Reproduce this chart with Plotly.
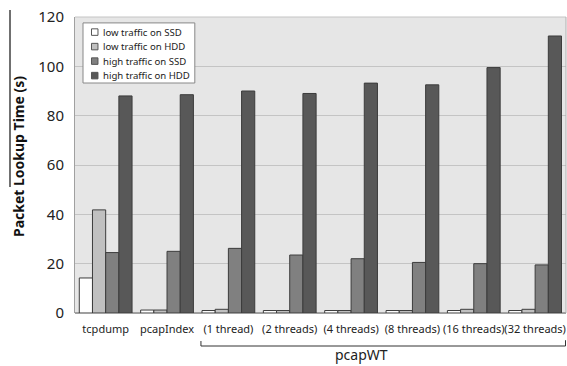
import plotly.graph_objects as go

categories = ["tcpdump", "pcapIndex", "(1 thread)", "(2 threads)", "(4 threads)",
              "(8 threads)", "(16 threads)", "(32 threads)"]
series_names = ["low traffic on SSD", "low traffic on HDD", "high traffic on SSD", "high traffic on HDD"]
low_ssd = [14.2, 1.2, 1.0, 1.0, 1.0, 1.0, 1.0, 1.0]
low_hdd = [41.8, 1.2, 1.5, 1.0, 1.0, 1.0, 1.5, 1.5]
high_ssd = [24.5, 25.0, 26.2, 23.5, 22.0, 20.5, 20.0, 19.5]
high_hdd = [88.0, 88.5, 90.0, 89.0, 93.2, 92.5, 99.5, 112.3]
y_ticks = [0, 20, 40, 60, 80, 100, 120]
y_title = "Packet Lookup Time (s)"
group_label = "pcapWT"

colors = ["#ffffff", "#c0c0c0", "#808080", "#585858"]
values = [low_ssd, low_hdd, high_ssd, high_hdd]

fig = go.Figure()
for name, vals, col in zip(series_names, values, colors):
    fig.add_trace(go.Bar(
        x=categories, y=vals, name=name,
        marker=dict(color=col, line=dict(color="#3c3c3c", width=1)),
        showlegend=False,
    ))

# manual compact legend (paper coordinates)
shapes = [
    dict(type="rect", xref="paper", yref="paper", x0=0.0163, x1=0.244, y0=0.777, y1=0.980,
         fillcolor="white", line=dict(color="#888888", width=1), layer="above"),
]
annotations = []
row_y = [0.949, 0.900, 0.851, 0.802]
for name, col, ry in zip(series_names, colors, row_y):
    shapes.append(dict(type="rect", xref="paper", yref="paper",
                       x0=0.0336, x1=0.0468, y0=ry - 0.011, y1=ry + 0.011,
                       fillcolor=col, line=dict(color="#555555", width=1), layer="above"))
    annotations.append(dict(text=name, xref="paper", yref="paper", x=0.052, y=ry,
                            xanchor="left", yanchor="middle", showarrow=False,
                            font=dict(size=9.6, color="#222222")))

shapes += [
    # plot border top / right
    dict(type="line", xref="paper", yref="paper", x0=0, x1=1, y0=1, y1=1,
         line=dict(color="#c4c4c4", width=1)),
    dict(type="line", xref="paper", yref="paper", x0=1, x1=1, y0=0, y1=1,
         line=dict(color="#b0b0b0", width=1)),
    # group bracket under pcapWT
    dict(type="path", xref="x", yref="paper",
         path="M 1.553,-0.0946 L 1.553,-0.1115 L 7.495,-0.1115 L 7.495,-0.092",
         line=dict(color="#333333", width=1)),
    # stray vertical line near the axis title
    dict(type="line", xref="paper", yref="paper",
         x0=-0.1324, x1=-0.1324, y0=0.4257, y1=1.0236,
         line=dict(color="#707070", width=2)),
]

annotations += [
    dict(text=group_label, x=4.17, y=-0.103, xref="x", yref="paper",
         showarrow=False, yanchor="top", font=dict(size=14, color="#222222")),
    dict(text="<b>" + y_title + "</b>", x=-0.116, y=0.527, xref="paper", yref="paper",
         textangle=-90, showarrow=False, xanchor="center", yanchor="middle",
         font=dict(size=14, color="#111111")),
]

fig.update_layout(
    width=567, height=366,
    margin=dict(l=75, r=1, t=17, b=53, autoexpand=False),
    paper_bgcolor="white",
    plot_bgcolor="#e6e6e6",
    barmode="group",
    bargap=0.14,
    bargroupgap=0,
    font=dict(family="Noto Sans", color="#222222"),
    xaxis=dict(
        tickfont=dict(size=11, color="#222222"),
        tickangle=0,
        showline=False, ticks="outside", ticklen=6, tickcolor="rgba(0,0,0,0)",
        automargin=False,
    ),
    yaxis=dict(
        range=[0, 120], tickvals=y_ticks,
        tickfont=dict(size=15, color="#222222"),
        gridcolor="#c4c4c4", gridwidth=1,
        showline=True, linecolor="#a0a0a0", linewidth=1,
        zeroline=True, zerolinecolor="#a0a0a0",
        ticks="outside", ticklen=7, tickcolor="rgba(0,0,0,0)",
        automargin=False,
    ),
    shapes=shapes,
    annotations=annotations,
)

fig.write_html("out.html", config={"displayModeBar": False},
               post_script="document.body.style.margin='0px';document.body.style.overflow='hidden';")
